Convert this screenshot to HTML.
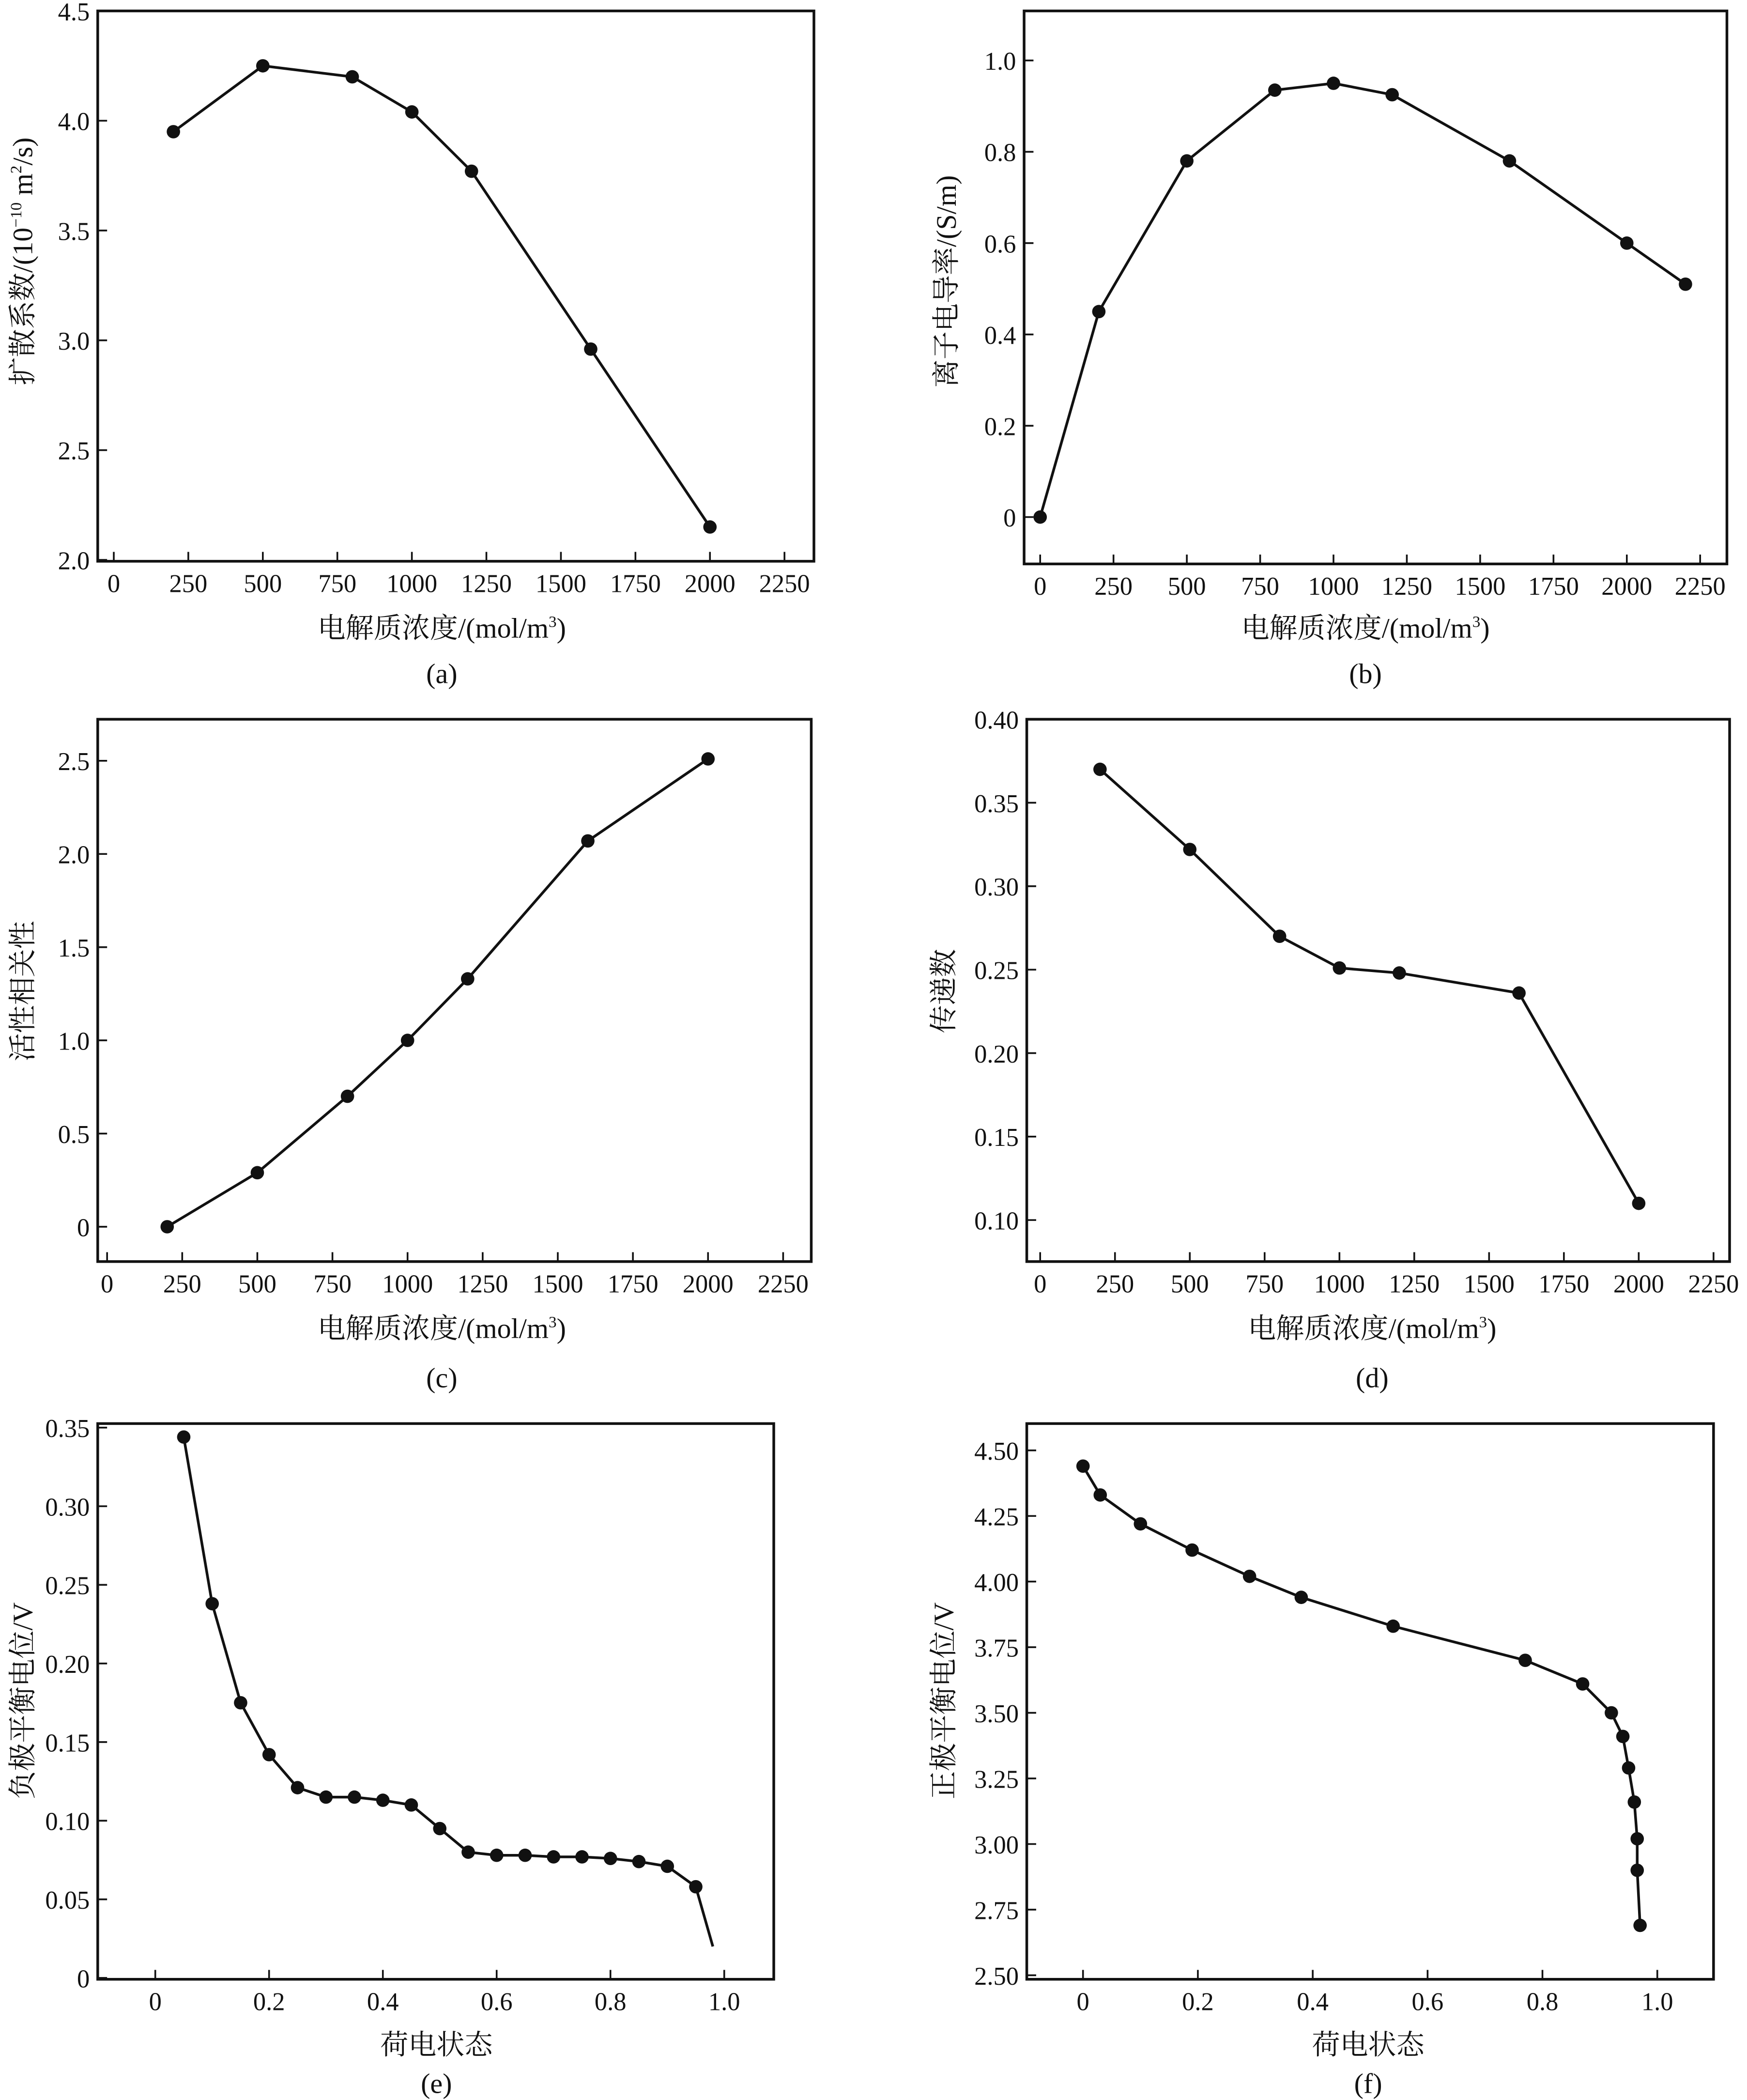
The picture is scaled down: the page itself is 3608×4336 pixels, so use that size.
<!DOCTYPE html>
<html><head><meta charset="utf-8"><style>
html,body{margin:0;padding:0;background:#fff}
svg{display:block}
text{font-family:"Liberation Serif","Noto Serif CJK SC",serif;fill:#111}
</style></head><body>
<svg id="fig" width="3608" height="4336" viewBox="0 0 1305 1568" xmlns="http://www.w3.org/2000/svg"></svg>
<script>
// panel (a)
const aX=[200,500,800,1000,1200,1600,2000];
const aY=[3.95,4.25,4.2,4.04,3.77,2.96,2.15];
// panel (b)
const bX=[0,200,500,800,1000,1200,1600,2000,2200];
const bY=[0,0.45,0.78,0.935,0.95,0.925,0.78,0.6,0.51];
// panel (c)
const cX=[200,500,800,1000,1200,1600,2000];
const cY=[0,0.29,0.7,1.0,1.33,2.07,2.51];
// panel (d)
const dX=[200,500,800,1000,1200,1600,2000];
const dY=[0.37,0.322,0.27,0.251,0.248,0.236,0.11];
// panel (e)
const eX=[0.05,0.1,0.15,0.2,0.25,0.3,0.35,0.4,0.45,0.5,0.55,0.6,0.65,0.7,0.75,0.8,0.85,0.9,0.95];
const eY=[0.344,0.238,0.175,0.142,0.121,0.115,0.115,0.113,0.11,0.095,0.08,0.078,0.078,0.077,0.077,0.076,0.074,0.071,0.058];
const eEndX=0.98, eEndY=0.02;
// panel (f)
const fX=[0,0.03,0.1,0.19,0.29,0.38,0.54,0.77,0.87,0.92,0.94,0.95,0.96,0.965,0.965,0.97];
const fY=[4.44,4.33,4.22,4.12,4.02,3.94,3.83,3.70,3.61,3.50,3.41,3.29,3.16,3.02,2.90,2.69];
// ticks
const concTicks=[0,250,500,750,1000,1250,1500,1750,2000,2250];
const socTicks=[0,0.2,0.4,0.6,0.8,1.0];
const socLabels=["0","0.2","0.4","0.6","0.8","1.0"];
const aYT=[2.0,2.5,3.0,3.5,4.0,4.5], aYL=["2.0","2.5","3.0","3.5","4.0","4.5"];
const bYT=[0,0.2,0.4,0.6,0.8,1.0], bYL=["0","0.2","0.4","0.6","0.8","1.0"];
const cYT=[0,0.5,1.0,1.5,2.0,2.5], cYL=["0","0.5","1.0","1.5","2.0","2.5"];
const dYT=[0.10,0.15,0.20,0.25,0.30,0.35,0.40], dYL=["0.10","0.15","0.20","0.25","0.30","0.35","0.40"];
const eYT=[0,0.05,0.10,0.15,0.20,0.25,0.30,0.35], eYL=["0","0.05","0.10","0.15","0.20","0.25","0.30","0.35"];
const fYT=[2.5,2.75,3.0,3.25,3.5,3.75,4.0,4.25,4.5], fYL=["2.50","2.75","3.00","3.25","3.50","3.75","4.00","4.25","4.50"];

const NS="http://www.w3.org/2000/svg";
const svg=document.getElementById('fig');
function el(tag,attrs,parent){const e=document.createElementNS(NS,tag);for(const k in attrs)e.setAttribute(k,attrs[k]);(parent||svg).appendChild(e);return e;}

function panel(p){
  const g=el('g',{});
  
  
  const sx=v=>p.x0+(v-p.xv0)/(p.xv1-p.xv0)*(p.x1-p.x0);
  const sy=v=>p.y0+(v-p.yv0)/(p.yv1-p.yv0)*(p.y1-p.y0);
  const box=el('rect',{x:p.L,y:p.T,width:p.R-p.L,height:p.B-p.T,fill:'none',stroke:'#111','stroke-width':2},g);
  
  
  p.xt.forEach((v,i)=>{
    const x=sx(v);
    const t=el('line',{x1:x,x2:x,y1:p.B,y2:p.B-7,stroke:'#111','stroke-width':1.3},g);
    
    
    const tx=el('text',{x:x,y:p.B+23,'font-size':19,'text-anchor':'middle'},g);
    tx.textContent=p.xl[i];
    
    
  });
  p.yt.forEach((v,i)=>{
    const y=sy(v);
    const t=el('line',{x1:p.L,x2:p.L+7,y1:y,y2:y,stroke:'#111','stroke-width':1.3},g);
    
    
    const tx=el('text',{x:p.L-6,y:y+7,'font-size':19,'text-anchor':'end'},g);
    tx.textContent=p.yl[i];
    
    
  });
  let pts=p.xs.map((v,i)=>sx(v)+','+sy(p.ys[i]));
  if(p.endX!==undefined)pts.push(sx(p.endX)+','+sy(p.endY));
  const ln=el('polyline',{points:pts.join(' '),fill:'none',stroke:'#111','stroke-width':2,'stroke-linejoin':'round'},g);
  
  
  p.xs.forEach((v,i)=>{
    const c=el('circle',{cx:sx(v),cy:sy(p.ys[i]),r:5,fill:'#111'},g);
    
    
  });
  const xt=el('text',{x:p.xtX,y:p.xtY,'font-size':21,'text-anchor':'middle'},g);
  xt.innerHTML=p.xtitle;
  
  
  const yt=el('text',{x:0,y:0,'font-size':21,'text-anchor':'middle',transform:`translate(${p.ytX},${p.ytY}) rotate(-90)`},g);
  yt.innerHTML=p.ytitle;
  
  
  const cap=el('text',{x:p.xtX,y:p.capY,'font-size':21,'text-anchor':'middle'},g);
  cap.textContent='('+p.id+')';
  
  
}
const concT='电解质浓度/(mol/m<tspan dy="-8" font-size="12">3</tspan><tspan dy="8">)</tspan>';
const concL=concTicks.map(String);
panel({id:'a',L:73,R:608,T:8,B:419,x0:85,x1:586,xv0:0,xv1:2250,y0:418,y1:8,yv0:2.0,yv1:4.5,
  xt:concTicks,xl:concL,yt:aYT,yl:aYL,xs:aX,ys:aY,xtitle:concT,xtX:330,xtY:476,capY:510,
  ytitle:'扩散系数/(10<tspan dy="-8" font-size="12">−10</tspan><tspan dy="8"> m</tspan><tspan dy="-8" font-size="12">2</tspan><tspan dy="8">/s)</tspan>',ytX:24,ytY:195});
panel({id:'b',L:765,R:1290,T:8,B:421,x0:777,x1:1270,xv0:0,xv1:2250,y0:386,y1:45,yv0:0,yv1:1.0,
  xt:concTicks,xl:concL,yt:bYT,yl:bYL,xs:bX,ys:bY,xtitle:concT,xtX:1020,xtY:476,capY:510,
  ytitle:'离子电导率/(S/m)',ytX:714,ytY:210});
panel({id:'c',L:73,R:606,T:537,B:942,x0:80,x1:585,xv0:0,xv1:2250,y0:916,y1:568,yv0:0,yv1:2.5,
  xt:concTicks,xl:concL,yt:cYT,yl:cYL,xs:cX,ys:cY,xtitle:concT,xtX:330,xtY:999,capY:1036,
  ytitle:'活性相关性',ytX:24,ytY:740});
panel({id:'d',L:767,R:1292,T:537,B:942,x0:777,x1:1280,xv0:0,xv1:2250,y0:911,y1:537,yv0:0.10,yv1:0.40,
  xt:concTicks,xl:concL,yt:dYT,yl:dYL,xs:dX,ys:dY,xtitle:concT,xtX:1025,xtY:999,capY:1036,
  ytitle:'传递数',ytX:712,ytY:740});
panel({id:'e',L:73,R:578,T:1063,B:1478,x0:116,x1:541,xv0:0,xv1:1,y0:1477,y1:1066,yv0:0,yv1:0.35,
  xt:socTicks,xl:socLabels,yt:eYT,yl:eYL,xs:eX,ys:eY,endX:eEndX,endY:eEndY,xtitle:'荷电状态',xtX:326,xtY:1534,capY:1563,
  ytitle:'负极平衡电位/V',ytX:24,ytY:1270});
panel({id:'f',L:767,R:1280,T:1063,B:1478,x0:809,x1:1238,xv0:0,xv1:1,y0:1475,y1:1083,yv0:2.5,yv1:4.5,
  xt:socTicks,xl:socLabels,yt:fYT,yl:fYL,xs:fX,ys:fY,xtitle:'荷电状态',xtX:1022,xtY:1534,capY:1563,
  ytitle:'正极平衡电位/V',ytX:712,ytY:1270});
</script>
</body></html>
